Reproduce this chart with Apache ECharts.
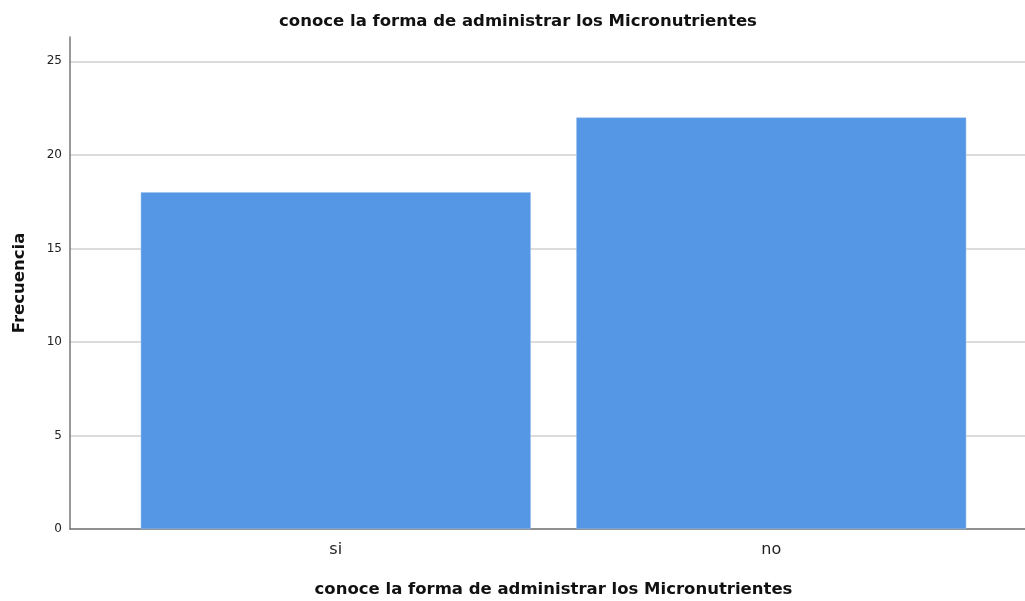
<!DOCTYPE html>
<html>
<head>
<meta charset="utf-8">
<script src="https://cdn.jsdelivr.net/npm/echarts@6/dist/echarts.min.js"></script>
<style>
  html, body { margin: 0; padding: 0; background: #fff; }
  #grafico { width: 1025px; height: 601px; }
</style>
</head>
<body>
<div id="grafico"></div>
<script>
const categorias = ['si', 'no'];
const frecuencias = [18, 22];
const marcasY = [0, 5, 10, 15, 20, 25];

const titulo = 'conoce la forma de administrar los Micronutrientes';
const fuente = '"DejaVu Sans", "Liberation Sans", sans-serif';

const getOptions = () => {
  return {
    animation: false,
    title: {
      text: titulo,
      left: 513,
      top: 8,
      textAlign: 'center',
      textStyle: { fontFamily: fuente, fontSize: 16.5, fontWeight: 'bold', color: '#111' }
    },
    grid: [
      // rejilla completa: eje Y y líneas guía
      { left: 70, right: 0, top: 37, bottom: 72, outerBoundsMode: 'none', containLabel: false },
      // rejilla interior para las barras
      { left: 118, width: 871, top: 37, bottom: 72, outerBoundsMode: 'none', containLabel: false }
    ],
    xAxis: [
      {
        gridIndex: 0,
        type: 'category',
        data: categorias,
        axisLine: { show: true, lineStyle: { color: '#777', width: 1.5 } },
        axisTick: { show: false },
        axisLabel: { show: false }
      },
      {
        gridIndex: 1,
        type: 'category',
        data: categorias,
        axisLine: { show: false },
        axisTick: { show: false },
        axisLabel: { fontFamily: fuente, fontSize: 16, color: '#222', margin: 13 },
        name: titulo,
        nameLocation: 'middle',
        nameGap: 52,
        nameTextStyle: { fontFamily: fuente, fontSize: 16.5, fontWeight: 'bold', color: '#111' }
      }
    ],
    yAxis: [
      {
        gridIndex: 0,
        type: 'value',
        min: 0,
        max: 26.3,
        interval: 5,
        axisLine: { show: true, lineStyle: { color: '#777', width: 1.5 } },
        axisTick: { show: false },
        axisLabel: {
          fontFamily: fuente, fontSize: 12, color: '#222', margin: 8,
          formatter: v => (marcasY.includes(v) ? String(v) : '')
        },
        splitLine: { show: true, showMaxLine: false, lineStyle: { color: '#d0d0d0', width: 1.5 } },
        name: 'Frecuencia',
        nameLocation: 'middle',
        nameGap: 42,
        nameTextStyle: { fontFamily: fuente, fontSize: 16.5, fontWeight: 'bold', color: '#111' }
      },
      {
        gridIndex: 1,
        type: 'value',
        min: 0,
        max: 26.3,
        interval: 5,
        show: false
      }
    ],
    series: [
      {
        name: 'Frecuencia',
        type: 'bar',
        xAxisIndex: 1,
        yAxisIndex: 1,
        barWidth: 390,
        data: frecuencias,
        itemStyle: { color: '#5597e4', borderColor: '#9cc0ee', borderWidth: 0.5 }
      }
    ]
  };
};

const initChart = () => {
  const grafico = echarts.init(document.getElementById('grafico'));
  grafico.setOption(getOptions());
};

window.addEventListener('load', () => {
  initChart();
});
</script>
</body>
</html>
